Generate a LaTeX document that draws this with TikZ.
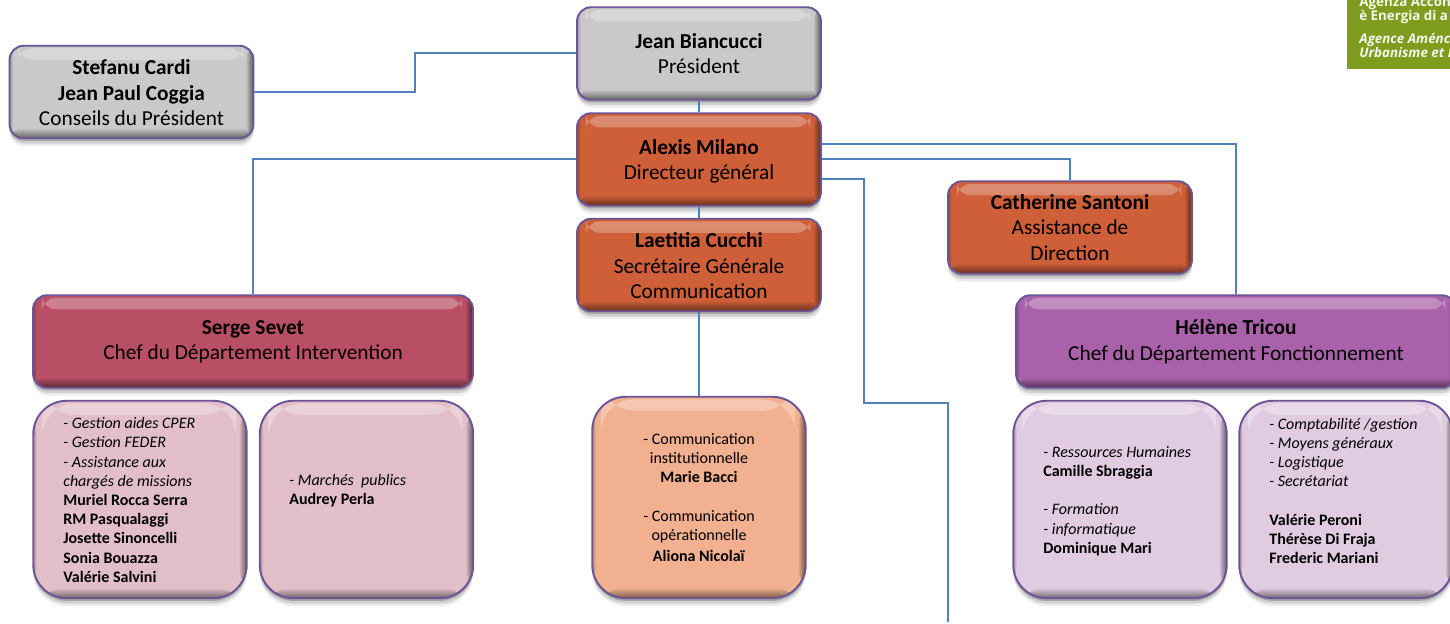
\documentclass[tikz,border=0pt]{standalone}
\usepackage{fontspec}
\setmainfont{Carlito}
\newfontfamily\logofont{Open Sans}
\usetikzlibrary{shadows,calc}

\definecolor{edgecol}{HTML}{6B5596}
\definecolor{linkcol}{HTML}{4F81BD}
\definecolor{greycol}{HTML}{C9C9C9}
\definecolor{orangecol}{HTML}{CE5F38}
\definecolor{redcol}{HTML}{B94F64}
\definecolor{mauvecol}{HTML}{A962A9}
\definecolor{pinkcol}{HTML}{E2BFC8}
\definecolor{peachcol}{HTML}{F1B08F}
\definecolor{lilaccol}{HTML}{E0CBE1}
\definecolor{logocol}{HTML}{7F9C1E}

\newcommand{\lowname}[1]{\rule{0pt}{9.4pt}\textbf{#1}}

\tikzset{
    gloss/.style={
        draw=edgecol, line width=1.1pt, fill=#1,
        drop shadow={shadow xshift=0pt, shadow yshift=-4.5pt, fill=black, opacity=.07},
        drop shadow={shadow xshift=0pt, shadow yshift=-3pt, fill=black, opacity=.12},
        drop shadow={shadow xshift=0pt, shadow yshift=-1.5pt, fill=black, opacity=.2},
        path picture={
            \def\bb{path picture bounding box}
            \shade[top color=#1!70!white, bottom color=#1]
                ([xshift=5pt,yshift=-1.5pt]\bb.north west) rectangle ([xshift=-6pt,yshift=-8pt]\bb.north east);
            \shade[top color=#1, bottom color=#1!50!black] ([yshift=6pt]\bb.south west) rectangle (\bb.south east);
            \shade[left color=#1, right color=#1!30!black, opacity=.8] ([xshift=-4.5pt]\bb.north east) rectangle (\bb.south east);
            \shade[right color=#1, left color=#1!60!black, opacity=.6] ([xshift=2pt]\bb.north west) rectangle (\bb.south west);
        }},
    headbox/.style={gloss=#1, rounded corners=8pt, align=center, inner sep=0pt,
        font=\fontsize{12.15}{14.55}\selectfont},
    wbox/.style={headbox=#1, minimum width=4.88cm, minimum height=1.85cm},
    listbox/.style={gloss=#1, rounded corners=19pt, align=center, inner sep=0pt,
        minimum width=4.27cm, minimum height=3.95cm, font=\fontsize{9.1}{10.95}\selectfont},
    listtext/.style={anchor=west, align=left, inner sep=0pt, font=\fontsize{9.1}{10.95}\selectfont},
    link/.style={draw=linkcol, line width=1.1pt},
    logotext/.style={anchor=west, align=left, inner sep=0pt, text=white!92!logocol,
        font=\logofont\bfseries\fontsize{7.6}{7.8}\selectfont}
}

\begin{document}
\begin{tikzpicture}[x=0.02cm, y=-0.02cm]

    \useasboundingbox (0,0) rectangle (1450,623);

    % Logo
    \fill[logocol] (1347,-5) rectangle (1450,69);
    \begin{scope}
        \clip (0,0) rectangle (1450,623);
        \node[logotext] (logoit) at (1359,10.5) {Agenza Accon\\è Energia di a};
        \node[logotext] (logofr) at (1359,45.5) {\itshape Agence Aménc\\\itshape Urbanisme et I};
    \end{scope}

    % Links under the boxes
    \coordinate (stepA) at (415,92);
    \coordinate (stepB) at (415,53);
    \coordinate (kneeS) at (253,159);
    \coordinate (kneeH) at (1236,144);
    \coordinate (kneeC) at (1070,159);
    \coordinate (outA) at (864,179);
    \coordinate (outB) at (864,403);
    \coordinate (outC) at (948,403);
    \coordinate (outD) at (948,622);

    % Top boxes
    \node[wbox=greycol] (president) at (699,53.5) {\textbf{Jean Biancucci}\\Président};
    \node[wbox=greycol] (conseils) at (131.5,92) {\lowname{Stefanu Cardi}\\\textbf{Jean Paul Coggia}\\Conseils du Président};
    \node[wbox=orangecol] (directeur) at (699,159.5) {\rule{0pt}{10.4pt}\textbf{Alexis Milano}\\Directeur général};
    \node[wbox=orangecol] (secretaire) at (699,265) {\lowname{Laetitia Cucchi}\\Secrétaire Générale\\Communication};
    \node[wbox=orangecol] (assistance) at (1070,227.5) {\textbf{Catherine Santoni}\\Assistance de\\Direction};

    % Departments
    \node[headbox=redcol, minimum width=8.8cm, minimum height=1.85cm] (intervention) at (253,341.5) {\textbf{Serge Sevet}\\Chef du Département Intervention};
    \node[headbox=mauvecol, minimum width=8.8cm, minimum height=1.85cm] (fonction) at (1236,341.5) {\textbf{Hélène Tricou}\\Chef du Département Fonctionnement};

    % Lower boxes
    \node[listbox=pinkcol] (cper) at (140,499.5) {};
    \node[listbox=pinkcol] (marches) at (366.5,499.5) {};
    \node[listbox=peachcol, minimum height=4.03cm] (comm) at (699,497.5) {- Communication\\institutionnelle\\\textbf{Marie Bacci}\\[10.9pt]- Communication\\opérationnelle\\[1pt]\textbf{Aliona Nicolaï}};
    \node[listbox=lilaccol] (rh) at (1120,499.5) {};
    \node[listbox=lilaccol] (compta) at (1346,499.5) {};

    \node[listtext] (cpertext) at (63,500) {\textit{- Gestion aides CPER}\\\textit{- Gestion FEDER}\\\textit{- Assistance aux}\\\textit{chargés de missions}\\\textbf{Muriel Rocca Serra}\\\textbf{RM Pasqualaggi}\\\textbf{Josette Sinoncelli}\\\textbf{Sonia Bouazza}\\\textbf{Valérie Salvini}};
    \node[listtext] (marchestext) at (289,491) {\textit{- Marchés~ publics}\\\textbf{Audrey Perla}};
    \node[listtext] (rhtext) at (1043,501) {\textit{- Ressources Humaines}\\\textbf{Camille Sbraggia}\\[10.9pt]\textit{- Formation}\\\textit{- informatique}\\\textbf{Dominique Mari}};
    \node[listtext] (comptatext) at (1269,491) {\textit{- Comptabilité /gestion}\\\textit{- Moyens généraux}\\\textit{- Logistique}\\\textit{- Secrétariat}\\[10.9pt]\textbf{Valérie Peroni}\\\textbf{Thérèse Di Fraja}\\\textbf{Frederic Mariani}};

    % Links
    \draw[link] (conseils.east |- stepA) -- (stepA) -- (stepB) -- (president.west |- stepB);
    \draw[link] (president) -- (directeur);
    \draw[link] (directeur) -- (secretaire);
    \draw[link] (secretaire) -- (comm);
    \draw[link] (directeur.west |- kneeS) -- (kneeS) -- (intervention.north -| kneeS);
    \draw[link] (directeur.east |- kneeH) -- (kneeH) -- (fonction.north -| kneeH);
    \draw[link] (directeur.east |- kneeC) -- (kneeC) -- (assistance.north -| kneeC);
    \draw[link] (directeur.east |- outA) -- (outA) -- (outB) -- (outC) -- (outD);

\end{tikzpicture}
\end{document}
